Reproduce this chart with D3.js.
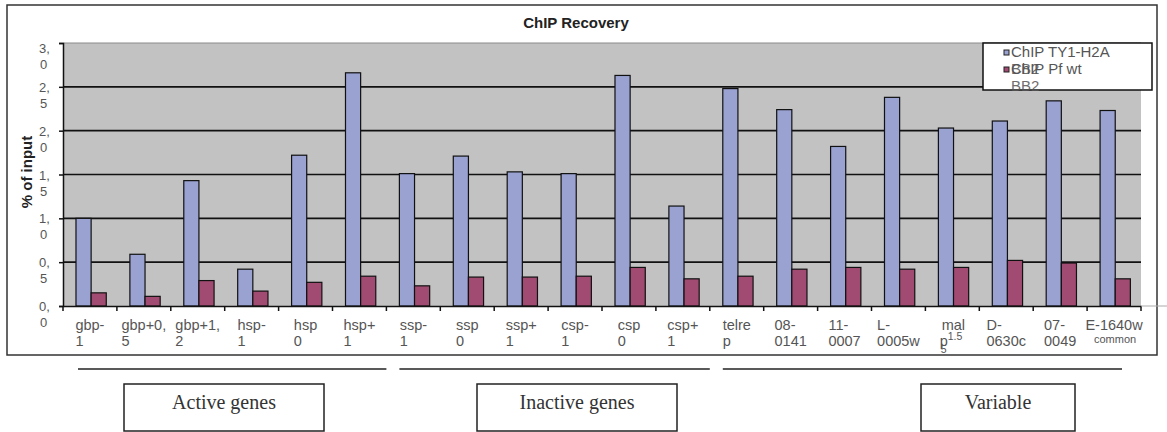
<!DOCTYPE html>
<html>
<head>
<meta charset="utf-8">
<script src="https://cdn.jsdelivr.net/npm/d3@7"></script>
<style>
  body { margin: 0; background: #fff; }
  svg { display: block; }
</style>
</head>
<body>
<svg></svg>
<script>
'use strict';

// data
const categories = ['gbp-1', 'gbp+0,5', 'gbp+1,2', 'hsp-1', 'hsp0', 'hsp+1',
  'ssp-1', 'ssp0', 'ssp+1', 'csp-1', 'csp0', 'csp+1',
  'telrep', '08-0141', '11-0007', 'L-0005w', 'malp1.5', 'D-0630c', '07-0049', 'E-1640w'];
const xTickLabels = [['gbp-', '1'], ['gbp+0,', '5'], ['gbp+1,', '2'], ['hsp-', '1'], ['hsp', '0'], ['hsp+', '1'],
  ['ssp-', '1'], ['ssp', '0'], ['ssp+', '1'], ['csp-', '1'], ['csp', '0'], ['csp+', '1'],
  ['telre', 'p'], ['08-', '0141'], ['11-', '0007'], ['L-', '0005w'], ['mal', 'p'], ['D-', '0630c'],
  ['07-', '0049'], ['E-1640w', 'common']];
const seriesNames = ['ChIP TY1-H2A', 'ChIP Pf wt'];
const ty1Values = [1.0, 0.59, 1.43, 0.42, 1.72, 2.66, 1.51, 1.71, 1.53, 1.51,
  2.63, 1.14, 2.48, 2.24, 1.82, 2.38, 2.03, 2.11, 2.34, 2.23];
const pfValues = [0.15, 0.11, 0.29, 0.17, 0.27, 0.34, 0.23, 0.33, 0.33, 0.34,
  0.44, 0.31, 0.34, 0.42, 0.44, 0.42, 0.44, 0.52, 0.49, 0.31];
const yTicks = [0, 0.5, 1, 1.5, 2, 2.5, 3];
const yTickLabels = ['0,0', '0,5', '1,0', '1,5', '2,0', '2,5', '3,0'];
const groupNames = ['Active genes', 'Inactive genes', 'Variable'];
const groupFirst = ['gbp-1', 'ssp-1', 'telrep'];
const groupLast = ['hsp+1', 'csp+1', 'E-1640w'];

const svgWidth = 1167;
const svgHeight = 432;
const plot = { left: 63, right: 1141, top: 43, bottom: 306 };
const colors = ['#9aa2d2', '#a24b72'];
const sans = '"Liberation Sans", Arial, sans-serif';
const txtGrey = '#555';

const svg = d3.select('svg')
  .attr('width', svgWidth)
  .attr('height', svgHeight);

// outer chart frame
svg.append('rect')
  .attr('x', 7).attr('y', 5)
  .attr('width', 1150).attr('height', 350)
  .attr('fill', '#fff')
  .attr('stroke', '#333')
  .attr('stroke-width', 1.5);

const x = d3.scaleBand()
  .domain(categories)
  .range([plot.left, plot.right]);

const xSub = d3.scaleBand()
  .domain(seriesNames)
  .range([0, x.bandwidth()])
  .paddingOuter(0.78)
  .align(0.55);

const y = d3.scaleLinear()
  .domain([0, 3])
  .range([plot.bottom, plot.top]);

// plot background
svg.append('rect')
  .attr('x', plot.left).attr('y', plot.top)
  .attr('width', plot.right - plot.left)
  .attr('height', plot.bottom - plot.top)
  .attr('fill', '#c2c2c2');

// gridlines
svg.append('g')
  .selectAll('line')
  .data(yTicks.filter(d => d > 0))
  .join('line')
  .attr('x1', plot.left)
  .attr('x2', plot.right)
  .attr('y1', d => y(d))
  .attr('y2', d => y(d))
  .attr('stroke', d => d === 3 ? '#8a8a8a' : '#111')
  .attr('stroke-width', d => d === 3 ? 1 : 1.6);

// bars
const series = [ty1Values, pfValues];
series.forEach((vals, s) => {
  svg.append('g')
    .selectAll('rect')
    .data(vals)
    .join('rect')
    .attr('x', (d, i) => x(categories[i]) + xSub(seriesNames[s]))
    .attr('y', d => y(d))
    .attr('width', xSub.bandwidth())
    .attr('height', d => y(0) - y(d))
    .attr('fill', colors[s])
    .attr('stroke', '#111')
    .attr('stroke-width', 1.2);
});

// y axis
const yAxis = svg.append('g')
  .attr('transform', `translate(${plot.left}, 0)`)
  .call(d3.axisLeft(y).tickValues(yTicks).tickSize(4).tickFormat(''));
yAxis.select('.domain').attr('stroke', '#111').attr('stroke-width', 1.5);
yAxis.selectAll('.tick line').attr('stroke', '#111').attr('stroke-width', 1.5);

yTicks.forEach((t, i) => {
  const parts = yTickLabels[i].split(',');
  const base = Math.max(y(t) + 5, 53);
  const lab = svg.append('text')
    .attr('font-family', sans)
    .attr('font-size', 13)
    .attr('fill', txtGrey);
  lab.append('tspan').attr('x', 39).attr('y', base).text(parts[0] + ',');
  lab.append('tspan').attr('x', 40).attr('y', base + 16).text(parts[1]);
});

// x axis
const xAxis = svg.append('g')
  .attr('transform', `translate(0, ${plot.bottom})`)
  .call(d3.axisBottom(x).tickSize(0).tickFormat(''));
xAxis.select('.domain').attr('stroke', '#111').attr('stroke-width', 1.5);

svg.append('g')
  .selectAll('line')
  .data(categories.concat(['end']))
  .join('line')
  .attr('x1', d => d === 'end' ? plot.right : x(d))
  .attr('x2', d => d === 'end' ? plot.right : x(d))
  .attr('y1', plot.bottom)
  .attr('y2', plot.bottom + 5)
  .attr('stroke', '#111')
  .attr('stroke-width', 1.5);

svg.append('line')
  .attr('x1', plot.right).attr('x2', svgWidth)
  .attr('y1', plot.bottom).attr('y2', plot.bottom)
  .attr('stroke', '#aaa');

// category labels: left aligned block, centred in its band
categories.forEach((c, i) => {
  const g = svg.append('g');
  const lines = xTickLabels[i].map((s, k) => g.append('text')
    .attr('font-family', sans)
    .attr('font-size', (c === 'E-1640w' && k === 1) ? 11 : 14.5)
    .attr('fill', txtGrey)
    .attr('y', k === 0 ? 330 : (c === 'E-1640w' ? 343 : 346))
    .text(s));
  const w = d3.max(lines, t => t.node().getComputedTextLength());
  const cx = x(c) + x.bandwidth() / 2;
  lines.forEach((t, k) => {
    if (c === 'E-1640w' && k === 1) {
      t.attr('x', cx - t.node().getComputedTextLength() / 2 + 1);
    } else {
      t.attr('x', cx - w / 2);
    }
  });
  if (c === 'malp1.5') {
    const left = cx - w / 2;
    lines[0].attr('x', left + 1);
    lines[1].attr('x', left - 1);
    g.append('text').attr('font-family', sans).attr('font-size', 10.5).attr('fill', txtGrey)
      .attr('x', left + 7).attr('y', 340).text('1.5');
    g.append('text').attr('font-family', sans).attr('font-size', 10.5).attr('fill', txtGrey)
      .attr('x', left).attr('y', 353).text('5');
  }
});

// axis title
svg.append('text')
  .attr('font-family', sans)
  .attr('font-weight', 'bold')
  .attr('font-size', 15)
  .attr('fill', '#222')
  .attr('text-anchor', 'middle')
  .attr('transform', 'translate(32, 172) rotate(-90)')
  .text('% of input');

// title
svg.append('text')
  .attr('font-family', sans)
  .attr('font-weight', 'bold')
  .attr('font-size', 15)
  .attr('fill', '#222')
  .attr('text-anchor', 'middle')
  .attr('x', 576)
  .attr('y', 28)
  .text('ChIP Recovery');

// legend
const legend = svg.append('g');
legend.append('rect')
  .attr('x', 983).attr('y', 43)
  .attr('width', 169).attr('height', 47)
  .attr('fill', '#fff')
  .attr('stroke', '#111')
  .attr('stroke-width', 1.5);
seriesNames.forEach((name, s) => {
  legend.append('rect')
    .attr('x', 1004).attr('y', 50 + s * 17)
    .attr('width', 5).attr('height', 5)
    .attr('fill', colors[s])
    .attr('stroke', '#222')
    .attr('stroke-width', 1);
  legend.append('text')
    .attr('font-family', sans)
    .attr('font-size', 15)
    .attr('fill', txtGrey)
    .attr('x', 1011)
    .attr('y', 57 + s * 17)
    .text(name);
});
// overlapping wrapped text of the second entry
['BB2', 'BB2'].forEach((t, k) => {
  legend.append('text')
    .attr('font-family', sans)
    .attr('font-size', 15)
    .attr('fill', txtGrey)
    .attr('opacity', 0.85)
    .attr('x', 1011)
    .attr('y', 74 + k * 17)
    .text(t);
});

// group brackets and boxes below the chart
const boxCentres = [224, 577, 998];
const boxWidths = [200, 200, 154];
groupNames.forEach((name, i) => {
  const x1 = x(groupFirst[i]) + (i === 0 ? 15 : 13);
  const x2 = x(groupLast[i]) + x.bandwidth() - (i === 2 ? 19 : 0);
  svg.append('line')
    .attr('x1', x1).attr('x2', x2)
    .attr('y1', 369).attr('y2', 369)
    .attr('stroke', '#222')
    .attr('stroke-width', 1.5);
  svg.append('rect')
    .attr('x', boxCentres[i] - boxWidths[i] / 2)
    .attr('y', 384)
    .attr('width', boxWidths[i])
    .attr('height', 47)
    .attr('fill', '#fff')
    .attr('stroke', '#222')
    .attr('stroke-width', 1.5);
  svg.append('text')
    .attr('font-family', '"Liberation Serif", "Times New Roman", serif')
    .attr('font-size', 20)
    .attr('fill', '#333')
    .attr('text-anchor', 'middle')
    .attr('x', boxCentres[i])
    .attr('y', 409)
    .text(name);
});
</script>
</body>
</html>
